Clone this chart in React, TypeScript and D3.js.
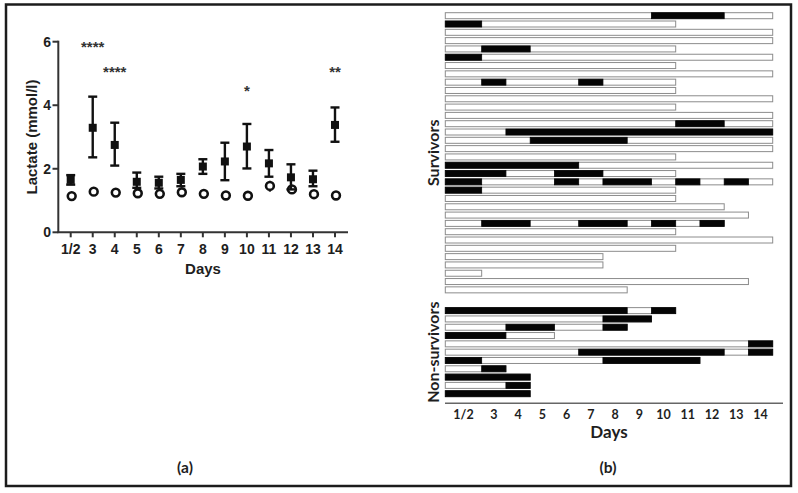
import React from "react";
import * as d3 from "d3";

// ---------- Panel (a) data ----------
const days = ["1/2", "3", "4", "5", "6", "7", "8", "9", "10", "11", "12", "13", "14"];
const nonSurvMean = [1.65, 3.29, 2.75, 1.59, 1.56, 1.65, 2.07, 2.23, 2.70, 2.17, 1.73, 1.67, 3.38];
const nonSurvLow = [1.50, 2.36, 2.10, 1.40, 1.38, 1.45, 1.84, 1.64, 2.01, 1.75, 1.35, 1.45, 2.85];
const nonSurvHigh = [1.80, 4.27, 3.45, 1.88, 1.75, 1.84, 2.30, 2.82, 3.41, 2.59, 2.14, 1.94, 3.93];
const survMean = [1.14, 1.28, 1.25, 1.23, 1.21, 1.26, 1.21, 1.16, 1.15, 1.46, 1.35, 1.20, 1.16];
const survLow = [1.10, 1.22, 1.20, 1.18, 1.16, 1.19, 1.17, 1.12, 1.11, 1.28, 1.25, 1.15, 1.12];
const survHigh = [1.18, 1.34, 1.30, 1.28, 1.26, 1.32, 1.25, 1.20, 1.19, 1.62, 1.45, 1.25, 1.20];
const yTicks = [0, 2, 4, 6];
const sigDays = ["3", "4", "10", "14"];
const sigStars = ["****", "****", "*", "**"];
const sigLevel = [5.93, 5.16, 4.56, 5.16];

// ---------- Panel (b) data ----------
// each row: [number of days covered (columns), black segments [firstCol, lastCol]]
const survivorRows: [number, [number, number][]][] = [
  [13, [[8, 10]]],
  [9, [[0, 0]]],
  [13, []],
  [13, []],
  [9, [[1, 2]]],
  [13, [[0, 0]]],
  [9, []],
  [13, []],
  [9, [[1, 1], [5, 5]]],
  [9, []],
  [13, []],
  [9, []],
  [13, []],
  [13, [[9, 10]]],
  [13, [[2, 12]]],
  [13, [[3, 6]]],
  [13, []],
  [9, []],
  [13, [[0, 4]]],
  [9, [[0, 1], [4, 5]]],
  [13, [[0, 0], [4, 4], [6, 7], [9, 9], [11, 11]]],
  [9, [[0, 0]]],
  [9, []],
  [11, []],
  [12, []],
  [11, [[1, 2], [5, 6], [8, 8], [10, 10]]],
  [9, []],
  [13, []],
  [9, []],
  [6, []],
  [6, []],
  [1, []],
  [12, []],
  [7, []],
];
const nonSurvivorRows: [number, [number, number][]][] = [
  [9, [[0, 6], [8, 8]]],
  [8, [[6, 7]]],
  [7, [[2, 3], [6, 6]]],
  [4, [[0, 1]]],
  [13, [[12, 12]]],
  [13, [[5, 10], [12, 12]]],
  [10, [[0, 0], [6, 9]]],
  [2, [[1, 1]]],
  [3, [[0, 2]]],
  [3, [[2, 2]]],
  [3, [[0, 2]]],
];
// width of each day column in day units ("1/2" covers a day and a half)
const colUnits = [1.5, 1, 1, 1, 1, 1, 1, 1, 1, 1, 1, 1, 1];

export default function App() {
  // ----- panel a scales -----
  const xA = d3.scalePoint<string>().domain(days).range([70.7, 335]);
  const yA = d3.scaleLinear().domain([0, 6]).range([232.3, 41.7]);
  const fa = "'Liberation Sans', Arial, sans-serif";

  // ----- panel b scales -----
  const starts = d3.cumsum([0, ...colUnits]) as unknown as number[];
  const totalUnits = d3.sum(colUnits);
  const xB = d3.scaleLinear().domain([0, totalUnits]).range([445.3, 772.7]);
  const colX = (c: number) => xB(starts[c]);
  const colCenter = (c: number) => (colX(c) + colX(c + 1)) / 2;
  const gapRows = 2.5;
  const survIdx = survivorRows.map((_, i) => i);
  const nonIdx = nonSurvivorRows.map((_, i) => survivorRows.length - 1 + gapRows + i);
  const lastIdx = nonIdx[nonIdx.length - 1];
  const yB = d3.scaleLinear().domain([0, lastIdx]).range([15.7, 393.7]);
  const barH = 6;
  const fb = "Lato, 'Open Sans', sans-serif";

  const drawRow = (row: [number, [number, number][]], idx: number, key: string) => {
    const [len, segs] = row;
    const cy = yB(idx);
    return (
      <g key={key}>
        <rect x={colX(0)} y={cy - barH / 2} width={colX(len) - colX(0)} height={barH}
          fill="#fff" stroke="#8c8c8c" strokeWidth={1} />
        {segs.map((s, j) => (
          <rect key={j} x={colX(s[0])} y={cy - barH / 2} width={colX(s[1] + 1) - colX(s[0])}
            height={barH} fill="#050505" stroke="#050505" strokeWidth={0.8} />
        ))}
      </g>
    );
  };

  const survCenter = (yB(0) + yB(survivorRows.length - 1)) / 2;
  const nonCenter = (yB(nonIdx[0]) + yB(lastIdx)) / 2;

  return (
    <svg width={798} height={493} style={{ position: "absolute", left: 0, top: 0, background: "#fff" }}>
      <rect x={0} y={0} width={798} height={493} fill="#fff" />
      {/* frame */}
      <rect x={6} y={4.5} width={785} height={481.5} fill="none" stroke="#1c1c1c" strokeWidth={2.5} />

      {/* ===== Panel (a) ===== */}
      <g fontFamily={fa} fontWeight="bold" fill="#1e1e1e">
        {/* y axis */}
        <line x1={58.3} x2={58.3} y1={yA(6) - 1} y2={yA(0)} stroke="#333" strokeWidth={2} />
        {yTicks.map((t) => (
          <g key={t}>
            <line x1={52.5} x2={58.3} y1={yA(t)} y2={yA(t)} stroke="#333" strokeWidth={2} />
            <text x={51} y={yA(t)} textAnchor="end" dominantBaseline="central" fontSize={14}>{t}</text>
          </g>
        ))}
        {/* x axis */}
        <line x1={57.3} x2={348} y1={yA(0)} y2={yA(0)} stroke="#333" strokeWidth={2} />
        {days.map((d) => (
          <g key={d}>
            <line x1={xA(d)!} x2={xA(d)!} y1={yA(0)} y2={yA(0) + 5} stroke="#333" strokeWidth={2} />
            <text x={xA(d)!} y={248.5} textAnchor="middle" dominantBaseline="central" fontSize={14}>{d}</text>
          </g>
        ))}
        <text x={203} y={268.5} textAnchor="middle" dominantBaseline="central" fontSize={15}>Days</text>
        <text transform={`translate(31.5,137) rotate(-90)`} textAnchor="middle" dominantBaseline="central" fontSize={15}>
          Lactate (mmol/l)
        </text>

        {/* survivors: open circles with error bars */}
        {days.map((d, i) => (
          <g key={"s" + d}>
            <line x1={xA(d)! + 1} x2={xA(d)! + 1} y1={yA(survLow[i])} y2={yA(survHigh[i])} stroke="#111" strokeWidth={2.2} />
            <circle cx={xA(d)! + 1} cy={yA(survMean[i])} r={3.9} fill="#fff" stroke="#111" strokeWidth={2.6} />
          </g>
        ))}
        {/* non-survivors: filled squares with error bars */}
        {days.map((d, i) => {
          const x = xA(d)!;
          return (
            <g key={"n" + d}>
              <line x1={x} x2={x} y1={yA(nonSurvLow[i])} y2={yA(nonSurvHigh[i])} stroke="#111" strokeWidth={2.4} />
              <line x1={x - 4.5} x2={x + 4.5} y1={yA(nonSurvHigh[i])} y2={yA(nonSurvHigh[i])} stroke="#111" strokeWidth={2.4} />
              <line x1={x - 4.5} x2={x + 4.5} y1={yA(nonSurvLow[i])} y2={yA(nonSurvLow[i])} stroke="#111" strokeWidth={2.4} />
              <rect x={x - 4} y={yA(nonSurvMean[i]) - 4} width={8} height={8} fill="#111" />
            </g>
          );
        })}
        {/* significance */}
        {sigDays.map((d, i) => (
          <text key={"sig" + d} x={xA(d)!} y={yA(sigLevel[i]) + 8.5} textAnchor="middle" fontSize={15} fill="#333">
            {sigStars[i]}
          </text>
        ))}
        <text x={185} y={467} textAnchor="middle" dominantBaseline="central" fontSize={15.5} fontFamily={fb}>(a)</text>
      </g>

      {/* ===== Panel (b) ===== */}
      <g fontFamily={fb} fontWeight="bold" fill="#1e1e1e">
        {survivorRows.map((r, i) => drawRow(r, survIdx[i], "s" + i))}
        {nonSurvivorRows.map((r, i) => drawRow(r, nonIdx[i], "n" + i))}
        <line x1={445} x2={783} y1={403.3} y2={403.3} stroke="#666" strokeWidth={1.5} />
        {days.map((d, i) => (
          <text key={d} x={colCenter(i)} y={414} textAnchor="middle" dominantBaseline="central" fontSize={12.5}>{d}</text>
        ))}
        <text x={609} y={431} textAnchor="middle" dominantBaseline="central" fontSize={17}>Days</text>
        <text transform={`translate(432.5,${survCenter}) rotate(-90)`} textAnchor="middle" dominantBaseline="central" fontSize={16}>
          Survivors
        </text>
        <text transform={`translate(432.5,${nonCenter}) rotate(-90)`} textAnchor="middle" dominantBaseline="central" fontSize={16}>
          Non-survivors
        </text>
        <text x={608} y={467} textAnchor="middle" dominantBaseline="central" fontSize={15.5}>(b)</text>
      </g>
    </svg>
  );
}
